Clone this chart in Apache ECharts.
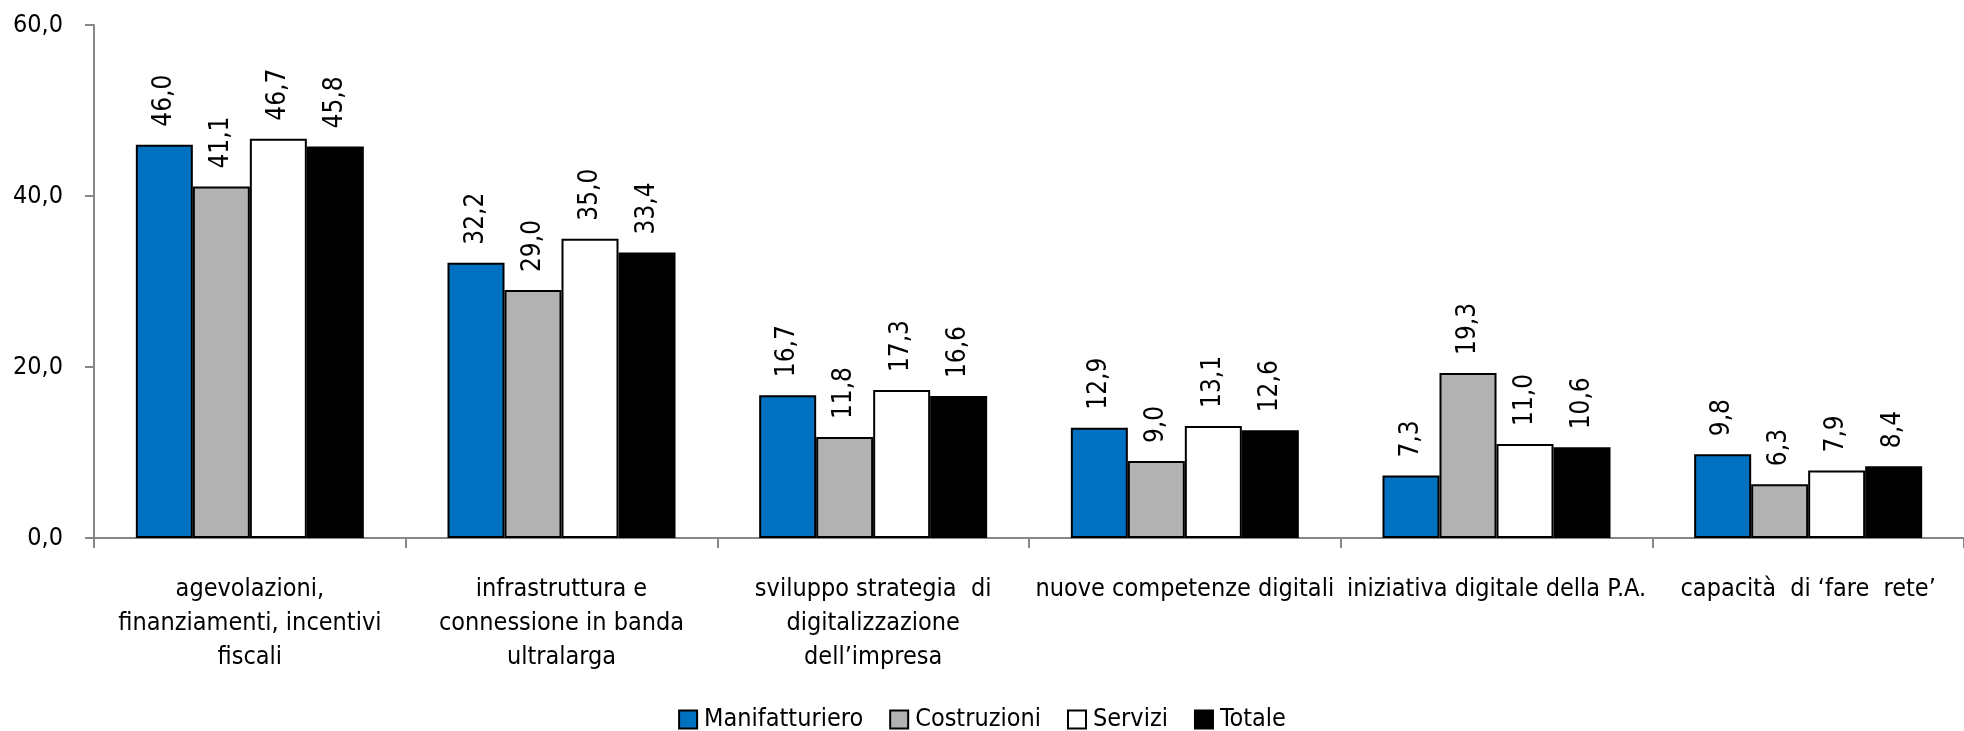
<!DOCTYPE html>
<html><head><meta charset="utf-8">
<script src="https://cdn.jsdelivr.net/npm/echarts@6/dist/echarts.min.js"></script>
<style>html,body{margin:0;padding:0;background:#fff}#c{width:1964px;height:731px}</style>
</head><body><div id="c"></div>
<script>
const categories = [
  "agevolazioni,\nfinanziamenti, incentivi\nfiscali",
  "infrastruttura e\nconnessione in banda\nultralarga",
  "sviluppo strategia  di\ndigitalizzazione\ndell\u2019impresa",
  "nuove competenze digitali",
  "iniziativa digitale della P.A.",
  "capacit\u00e0  di \u2018fare  rete\u2019"
];
const seriesNames = ["Manifatturiero", "Costruzioni", "Servizi", "Totale"];
const manifatturiero = [46.0, 32.2, 16.7, 12.9, 7.3, 9.8];
const costruzioni   = [41.1, 29.0, 11.8, 9.0, 19.3, 6.3];
const servizi       = [46.7, 35.0, 17.3, 13.1, 11.0, 7.9];
const totale        = [45.8, 33.4, 16.6, 12.6, 10.6, 8.4];
const yTicks = [0, 20, 40, 60];

const values = [manifatturiero, costruzioni, servizi, totale];
const colors = ["#0070C0", "#B2B2B2", "#FFFFFF", "#000000"];
const FONT = "'Liberation Sans Narrow', 'Arial Narrow', 'DejaVu Sans Condensed', sans-serif";
const fmt = v => v.toFixed(1).replace('.', ',');

const chart = echarts.init(document.getElementById('c'), null, {renderer: 'canvas'});
chart.setOption({
  animation: false,
  backgroundColor: '#fff',
  textStyle: {fontFamily: FONT},
  grid: {left: 94, top: 25, width: 1874, bottom: 193, containLabel: false},
  legend: {
    data: seriesNames.map(n => ({name: n, icon: 'rect'})), top: 702, left: 'center',
    itemWidth: 18, itemHeight: 18, itemGap: 26,
    textStyle: {fontFamily: FONT, fontSize: 25, color: '#000', padding: [0,0,0,2]}
  },
  xAxis: {
    type: 'category', data: categories,
    axisLine: {lineStyle: {color: '#868686', width: 2}},
    axisTick: {show: true, length: 10, lineStyle: {color: '#868686', width: 2}},
    axisLabel: {interval: 0, margin: 34, fontFamily: FONT, fontSize: 25, color: '#000', lineHeight: 34}
  },
  yAxis: {
    type: 'value', min: yTicks[0], max: yTicks[yTicks.length-1], interval: 20,
    splitLine: {show: false},
    axisLine: {show: true, lineStyle: {color: '#868686', width: 2}},
    axisTick: {show: true, inside: false, length: 9, lineStyle: {color: '#868686', width: 2}},
    axisLabel: {margin: 31, fontFamily: FONT, fontSize: 25, color: '#000', formatter: fmt}
  },
  series: seriesNames.map((n, i) => ({
    name: n, type: 'bar', data: values[i],
    barWidth: 57, barGap: '0%',
    itemStyle: {color: colors[i], borderColor: '#000', borderWidth: 2},
    label: {
      show: true, position: 'top', rotate: 90, align: 'left', verticalAlign: 'middle',
      distance: 18, fontFamily: FONT, fontSize: 26, color: '#000',
      formatter: p => fmt(p.value)
    }
  }))
});
</script></body></html>
